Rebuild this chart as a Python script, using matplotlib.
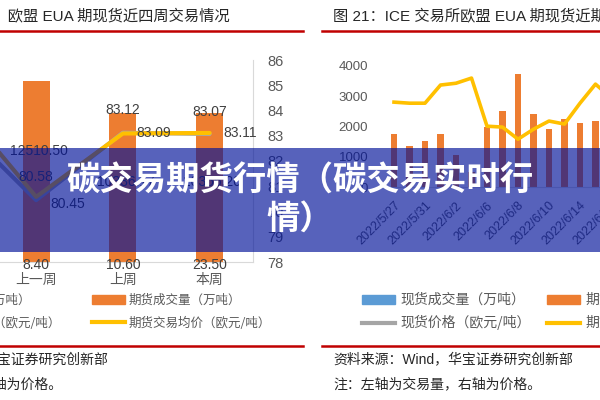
import matplotlib
matplotlib.use('Agg')
import matplotlib.pyplot as plt
from matplotlib.patches import Rectangle, Patch
from matplotlib.lines import Line2D

plt.rcParams['font.family'] = ['Liberation Sans', 'Noto Sans CJK SC', 'DejaVu Sans']

# ---------------- data: left panel (weekly) ----------------
weeks = ['上二周', '上一周', '上周', '本周']
fut_vol_w = [10900.00, 12510.50, 10336.17, 10356.20]   # 期货成交量（万吨）
spot_vol_w = [9.10, 8.40, 10.60, 23.50]                 # 现货成交量（万吨）
fut_px_w = [84.70, 80.58, 83.09, 83.11]                 # 期货交易均价
spot_px_w = [83.85, 80.45, 83.12, 83.07]                # 现货交易均价

# ---------------- data: right panel (daily) ----------------
dates = ['2022/5/27', '2022/5/30', '2022/5/31', '2022/6/1', '2022/6/2', '2022/6/3',
         '2022/6/6', '2022/6/7', '2022/6/8', '2022/6/9', '2022/6/10', '2022/6/13',
         '2022/6/14', '2022/6/15', '2022/6/16']
fut_vol_d = [1750, 1350, 1520, 1750, 1050, 500, 1980, 2510, 3730, 2400, 1910,
             2240, 2120, 2180, 2000]
fut_px_d = [2805, 2770, 2770, 3370, 3430, 3600, 2010, 1980, 1580, 1910, 2180,
            2080, 2770, 3400, 2950]
right_yticks = [0, 1000, 2000, 3000, 4000]
left_y2ticks = [78, 79, 80, 81, 82, 83, 84, 85, 86]

ORANGE = '#ED7D31'
BLUE = '#5B9BD5'
GRAY = '#A5A5A5'
YELLOW = '#FFC000'
TICK = '#595959'
LAB = '#404040'
RED = '#C00000'

W, H = 600, 400
fig = plt.figure(figsize=(6, 4), dpi=100)


def box(l, t, r, b):
    return [l / W, 1 - b / H, (r - l) / W, (b - t) / H]


def fpt(x, y):
    return (x / W, 1 - y / H)


# ---------------- left panel ----------------
ax = fig.add_axes(box(-94, 60, 253, 262))
xw = list(range(len(weeks)))
bw = 0.31
ax.bar(xw, fut_vol_w, width=bw, color=ORANGE, zorder=2)
ax.bar(xw, spot_vol_w, width=bw, color=BLUE, zorder=2)
ax.set_xlim(-0.5, len(weeks) - 0.5)
ax.set_ylim(0, 14000)
ax.set_yticks([])
ax.set_xticks(xw)
ax.set_xticklabels(weeks, color=TICK, fontsize=10, family=['Noto Sans CJK SC'])
ax.tick_params(axis='x', length=0, pad=8)
for s in ['top', 'left', 'right']:
    ax.spines[s].set_visible(False)
ax.spines['bottom'].set_color('#D9D9D9')

for i, v in enumerate(fut_vol_w):
    ax.annotate(f'{v:.2f}', (i, v), xytext=(2, -50), textcoords='offset points',
                ha='center', va='center', fontsize=10, color=LAB)
for i, v in enumerate(spot_vol_w):
    ax.annotate(f'{v:.2f}', (i, 0), xytext=(0, -2), textcoords='offset points',
                ha='center', va='center', fontsize=10, color=LAB)

ax2 = ax.twinx()
ax2.set_ylim(78, 86)
ax2.set_yticks(left_y2ticks)
ax2.set_yticklabels([str(t) for t in left_y2ticks], color=TICK, fontsize=10.5)
ax2.tick_params(axis='y', length=0, pad=10)
for s in ['top', 'left', 'bottom']:
    ax2.spines[s].set_visible(False)
ax2.spines['right'].set_color('#D9D9D9')
ax2.plot(xw, spot_px_w, color=GRAY, lw=3, zorder=3, solid_capstyle='round')
ax2.plot(xw, fut_px_w, color=YELLOW, lw=3, zorder=4, solid_capstyle='round')

fut_off = [(10, 0), (0, 14), (10, 0), (10, 0)]
spot_off = [(10, -3), (10, -3), (0, 16), (0, 16)]
for i, v in enumerate(fut_px_w):
    dx, dy = fut_off[i]
    ax2.annotate(f'{v:.2f}', (i, v), xytext=(dx, dy), textcoords='offset points',
                 ha='left' if dx else 'center', va='center', fontsize=10, color=LAB, zorder=6)
for i, v in enumerate(spot_px_w):
    dx, dy = spot_off[i]
    ax2.annotate(f'{v:.2f}', (i, v), xytext=(dx, dy), textcoords='offset points',
                 ha='left' if dx else 'center', va='center', fontsize=10, color=LAB, zorder=6)

# left legends (two columns)
cjk = {'family': ['Noto Sans CJK SC'], 'size': 9}
hl = [Patch(color=BLUE), Line2D([], [], color=GRAY, lw=3)]
hr = [Patch(color=ORANGE), Line2D([], [], color=YELLOW, lw=3)]
for handles, labels, x0 in [(hl, ['现货成交量（万吨）', '现货交易均价（欧元/吨）'], -118),
                            (hr, ['期货成交量（万吨）', '期货交易均价（欧元/吨）'], 92)]:
    leg = fig.legend(handles=handles, labels=labels, loc='upper left',
                     bbox_to_anchor=fpt(x0, 294), frameon=False, prop=cjk,
                     borderpad=0, borderaxespad=0, handlelength=2.6, handleheight=0.7,
                     handletextpad=0.3, labelspacing=0.75)
    for t in leg.get_texts():
        t.set_color(TICK)

# ---------------- right panel ----------------
axr = fig.add_axes(box(386.25, 56, 386.25 + 15 * 15.5, 187))
xd = list(range(len(dates)))
axr.bar(xd, fut_vol_d, width=0.4, color=ORANGE, zorder=2)
axr.plot(xd, fut_px_d, color=YELLOW, lw=2.6, zorder=3)
axr.set_xlim(-0.5, len(dates) - 0.5)
axr.set_ylim(0, 4330)
axr.set_yticks(right_yticks)
axr.set_yticklabels([str(t) for t in right_yticks], color=TICK, fontsize=9.5)
axr.tick_params(axis='y', length=0, pad=13)
axr.set_xticks(xd[::2])
axr.set_xticklabels(dates[::2], rotation=45, ha='right', rotation_mode='anchor',
                    color=TICK, fontsize=9)
axr.tick_params(axis='x', length=0, pad=9)
for s in ['top', 'left', 'right']:
    axr.spines[s].set_visible(False)
axr.spines['bottom'].set_color('#D9D9D9')

hl2 = [Patch(color=BLUE), Line2D([], [], color=GRAY, lw=3)]
hr2 = [Patch(color=ORANGE), Line2D([], [], color=YELLOW, lw=3)]
cjk2 = {'family': ['Noto Sans CJK SC'], 'size': 10}
for handles, labels, x0 in [(hl2, ['现货成交量（万吨）', '现货价格（欧元/吨）'], 362),
                            (hr2, ['期货成交量（万吨）', '期货价格（欧元/吨）'], 547)]:
    leg = fig.legend(handles=handles, labels=labels, loc='upper left',
                     bbox_to_anchor=fpt(x0, 293), frameon=False, prop=cjk2,
                     borderpad=0, borderaxespad=0, handlelength=2.4, handleheight=0.6,
                     handletextpad=0.4, labelspacing=0.6)
    for t in leg.get_texts():
        t.set_color(TICK)

# ---------------- titles, rules, notes ----------------
tfont = ['Liberation Sans', 'Noto Sans CJK SC']
fig.text(*fpt(230, 16), '图 20：欧盟 EUA 期现货近四周交易情况', ha='right', va='center',
         fontsize=11, color='#262626', family=tfont)
fig.text(*fpt(333, 16), '图 21：ICE 交易所欧盟 EUA 期现货近期交易情况', ha='left', va='center',
         fontsize=11, color='#262626', family=tfont)
for y in (31, 346):
    fig.add_artist(Line2D([0, 303 / W], [1 - y / H] * 2, color=RED, lw=1.8))
    fig.add_artist(Line2D([322 / W, 1], [1 - y / H] * 2, color=RED, lw=1.8))

src = '资料来源：Wind，华宝证券研究创新部'
note = '注：左轴为交易量，右轴为价格。'
fig.text(*fpt(108, 359), src, ha='right', va='center', fontsize=10, color='#262626', family=tfont)
fig.text(*fpt(63, 384), note, ha='right', va='center', fontsize=10, color='#262626', family=tfont)
fig.text(*fpt(333, 359), src, ha='left', va='center', fontsize=10, color='#262626', family=tfont)
fig.text(*fpt(333, 384), note, ha='left', va='center', fontsize=10, color='#262626', family=tfont)

# ---------------- banner ----------------
fig.add_artist(Rectangle((0, 1 - 252 / H), 1, 104 / H, transform=fig.transFigure,
                         facecolor=(0, 17 / 255, 153 / 255), alpha=0.66, edgecolor='none',
                         zorder=10))
fig.text(*fpt(300, 200), '碳交易期货行情（碳交易实时行\n情）', ha='center', va='center',
         multialignment='center', fontsize=24, fontweight='heavy', color='white',
         family=['Noto Sans CJK SC'], linespacing=1.2, zorder=11)

fig.savefig('out.png', dpi=100)
